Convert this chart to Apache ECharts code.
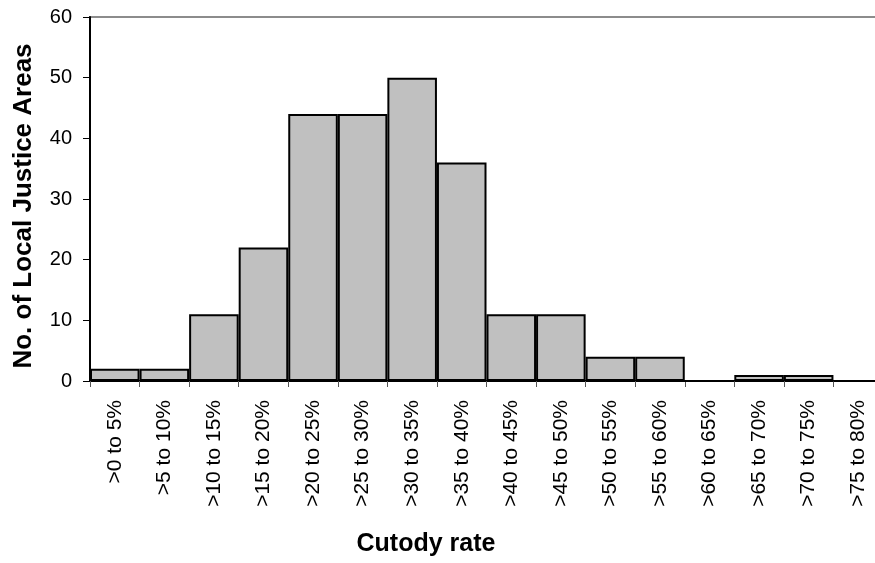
<!DOCTYPE html>
<html><head><meta charset="utf-8">
<script src="https://cdn.jsdelivr.net/npm/echarts@6/dist/echarts.min.js"></script>
<style>html,body{margin:0;padding:0;background:#fff}#c{width:875px;height:563px}</style>
</head><body><div id="c"></div>
<script>
const categories = ['>0 to 5%','>5 to 10%','>10 to 15%','>15 to 20%','>20 to 25%','>25 to 30%','>30 to 35%','>35 to 40%','>40 to 45%','>45 to 50%','>50 to 55%','>55 to 60%','>60 to 65%','>65 to 70%','>70 to 75%','>75 to 80%'];
const counts = [2,2,11,22,44,44,50,36,11,11,4,4,0,1,1,0];
const yTicks = {min:0, max:60, interval:10};
const xTitle = 'Cutody rate';
const yTitle = 'No. of Local Justice Areas';
const font = '"Liberation Sans", Arial, sans-serif';
const chart = echarts.init(document.getElementById('c'), null, {renderer:'canvas'});
chart.setOption({
  animation:false,
  backgroundColor:'#fff',
  grid:{left:90, top:17, width:793, height:364, outerBoundsMode:'none', containLabel:false,
    show:true, borderColor:'#8c8c8c', borderWidth:2, backgroundColor:'transparent'},
  xAxis:{type:'category', data:categories,
    axisLine:{lineStyle:{color:'#000', width:2}},
    axisTick:{show:true, length:6, interval:0, lineStyle:{color:'#555', width:1}},
    axisLabel:{rotate:90, interval:0, color:'#000', fontFamily:font, fontSize:21, margin:19}
  },
  yAxis:{type:'value', min:yTicks.min, max:yTicks.max, interval:yTicks.interval,
    axisLine:{show:true, lineStyle:{color:'#000', width:2}},
    axisTick:{show:true, length:7, lineStyle:{color:'#000', width:1}},
    splitLine:{show:false},
    axisLabel:{color:'#000', fontFamily:font, fontSize:20, margin:18}
  },
  graphic:[
    {type:'text', x:426, y:544, style:{text:xTitle, font:'bold 25px ' + font, fill:'#000', align:'center', verticalAlign:'middle'}},
    {type:'text', x:24, y:206, rotation:Math.PI/2, style:{text:yTitle, font:'bold 26px ' + font, fill:'#000', align:'center', verticalAlign:'middle'}}
  ],
  series:[{type:'bar', data:counts, barCategoryGap:'0%',
    itemStyle:{color:'#c0c0c0', borderColor:'#000', borderWidth:2}}]
});
</script></body></html>
